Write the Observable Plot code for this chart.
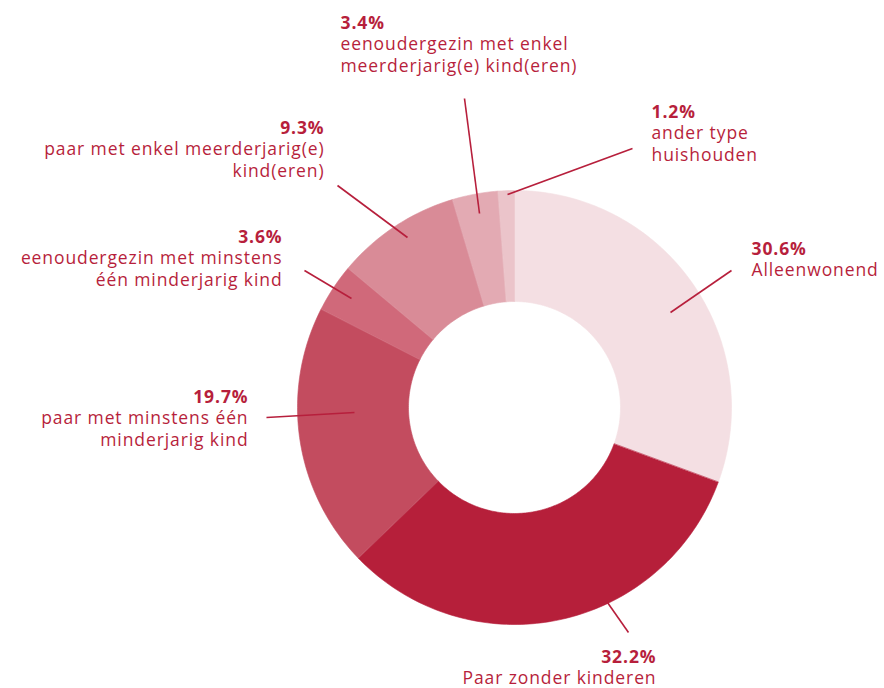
<!DOCTYPE html>
<html><head><meta charset="utf-8">
<script src="https://cdn.jsdelivr.net/npm/d3@7"></script>
<script src="https://cdn.jsdelivr.net/npm/@observablehq/plot@0.6"></script>
<style>body{margin:0;background:#fff} #chart svg text{letter-spacing:0.9px}</style>
</head><body><div id="chart"></div>
<script>
// ---- data ----
const categories = [
  "Alleenwonend",
  "Paar zonder kinderen",
  "paar met minstens één minderjarig kind",
  "eenoudergezin met minstens één minderjarig kind",
  "paar met enkel meerderjarig(e) kind(eren)",
  "eenoudergezin met enkel meerderjarig(e) kind(eren)",
  "ander type huishouden"
];
const values = [30.6, 32.2, 19.7, 3.6, 9.3, 3.4, 1.2];
const pctLabels = ["30.6%", "32.2%", "19.7%", "3.6%", "9.3%", "3.4%", "1.2%"];
const nameLines = [
  "Alleenwonend",
  "Paar zonder kinderen",
  "paar met minstens één\nminderjarig kind",
  "eenoudergezin met minstens\néén minderjarig kind",
  "paar met enkel meerderjarig(e)\nkind(eren)",
  "eenoudergezin met enkel\nmeerderjarig(e) kind(eren)",
  "ander type\nhuishouden"
];
const colors = ["#F4DFE3", "#B61F3A", "#C34C5F", "#D0697A", "#D98B97", "#E3AAB3", "#EBC4CA"];

// ---- layout (pixel positions) ----
const W = 884, H = 688;
const cx = 514, cy = 407, rOuter = 217, rInner = 106;
const FS = 17.5, LH = 22, GAP = 21.5;
const labelLayout = [
  {anchor: "start", x: 751, base: 254, link: [670, 312, 731, 270]},
  {anchor: "end",   x: 656, base: 662, link: [607, 602, 628, 632]},
  {anchor: "end",   x: 248, base: 402, link: [354, 412, 266, 417]},
  {anchor: "end",   x: 282, base: 242, link: [351, 298, 304, 270]},
  {anchor: "end",   x: 324, base: 133, link: [407, 237, 337, 185]},
  {anchor: "start", x: 340, base: 28,  link: [479, 213, 464, 98]},
  {anchor: "start", x: 651, base: 117, link: [507, 194, 632, 148]}
];

// ---- geometry of the slices from the values ----
const total = d3.sum(values);
const points = [];
let acc = 0;
categories.forEach((cat, i) => {
  const a0 = acc / total * 2 * Math.PI;
  acc += values[i];
  const a1 = acc / total * 2 * Math.PI;
  const n = Math.max(2, Math.ceil((a1 - a0) / (Math.PI / 180)));
  for (let k = 0; k <= n; k++) {
    const a = a0 + (a1 - a0) * k / n;
    points.push({cat, x: cx + rOuter * Math.sin(a), y: cy - rOuter * Math.cos(a)});
  }
  for (let k = n; k >= 0; k--) {
    const a = a0 + (a1 - a0) * k / n;
    points.push({cat, x: cx + rInner * Math.sin(a), y: cy - rInner * Math.cos(a)});
  }
});

const labels = categories.map((cat, i) => ({
  cat, pct: pctLabels[i], name: nameLines[i], ...labelLayout[i]
}));

const textColor = "#B71F3C";

const textMarks = [];
for (const anchor of ["start", "end"]) {
  const sub = labels.filter(d => d.anchor === anchor);
  textMarks.push(Plot.text(sub, {
    x: "x", y: d => d.base - 0.71 * FS, text: "pct",
    textAnchor: anchor, lineAnchor: "top",
    fill: textColor, fontSize: FS, fontWeight: "bold"
  }));
  textMarks.push(Plot.text(sub, {
    x: "x", y: d => d.base + GAP - 0.71 * LH, text: "name",
    textAnchor: anchor, lineAnchor: "top", lineHeight: LH / FS,
    fill: textColor, fontSize: FS, fontWeight: "normal"
  }));
}

const chart = Plot.plot({
  width: W, height: H,
  margin: 0,
  x: {domain: [0, W], axis: null},
  y: {domain: [H, 0], axis: null},
  color: {domain: categories, range: colors},
  style: {fontFamily: "'Open Sans', sans-serif", background: "#fff"},
  marks: [
    Plot.line(points, {x: "x", y: "y", z: "cat", fill: "cat", stroke: "cat", strokeWidth: 0.6, curve: "linear-closed"}),
    Plot.link(labels, {
      x1: d => d.link[0], y1: d => d.link[1], x2: d => d.link[2], y2: d => d.link[3],
      stroke: textColor, strokeWidth: 1.6
    }),
    ...textMarks
  ]
});
document.getElementById("chart").append(chart);
</script>
</body></html>
